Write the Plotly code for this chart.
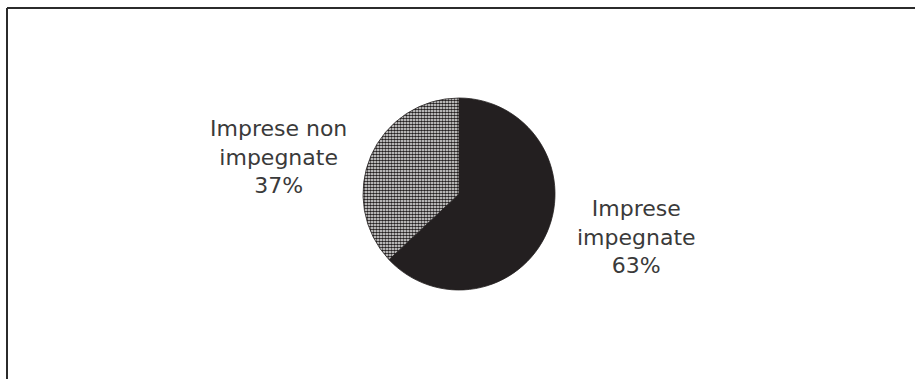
import plotly.graph_objects as go

# Share of firms (percent)
labels = ["Imprese impegnate", "Imprese non impegnate"]
label_text = ["Imprese<br>impegnate", "Imprese non<br>impegnate"]
values = [63, 37]

W, H = 915, 379

fig = go.Figure()

fig.add_trace(go.Pie(
    labels=labels,
    values=values,
    sort=False,
    direction="clockwise",
    rotation=0,
    textinfo="none",
    hoverinfo="label+percent",
    showlegend=False,
    domain=dict(x=[363 / W, 555 / W], y=[1 - 290 / H, 1 - 98 / H]),
    marker=dict(
        colors=["#231f20", "#ffffff"],
        line=dict(color="#231f20", width=0.8),
        pattern=dict(
            shape=["", "."],
            fgcolor="#231f20",
            bgcolor="#ffffff",
            size=3,
            solidity=0.62,
        ),
    ),
))

# Slice captions: text plus percentage, placed beside each slice
caption_pos = [(636 / W, 1 - 237 / H), (278 / W, 1 - 157 / H)]
for txt, val, (ax, ay) in zip(label_text, values, caption_pos):
    fig.add_annotation(
        x=ax, y=ay, xref="paper", yref="paper",
        text=f"{txt}<br>{val}%",
        showarrow=False, xanchor="center", yanchor="middle",
        align="center",
        font=dict(family="DejaVu Sans", size=22, color="#3a3a3a"),
    )

# Frame lines (top and left edges)
frame_x = 7 / W
frame_y = 1 - 8 / H
fig.add_shape(type="line", xref="paper", yref="paper",
              x0=frame_x, x1=1, y0=frame_y, y1=frame_y,
              line=dict(color="#2b2b2b", width=2))
fig.add_shape(type="line", xref="paper", yref="paper",
              x0=frame_x, x1=frame_x, y0=0, y1=frame_y,
              line=dict(color="#2b2b2b", width=2))

fig.update_layout(
    width=W, height=H,
    margin=dict(l=0, r=0, t=0, b=0),
    paper_bgcolor="white",
    plot_bgcolor="white",
)

fig.write_html("out.html")
